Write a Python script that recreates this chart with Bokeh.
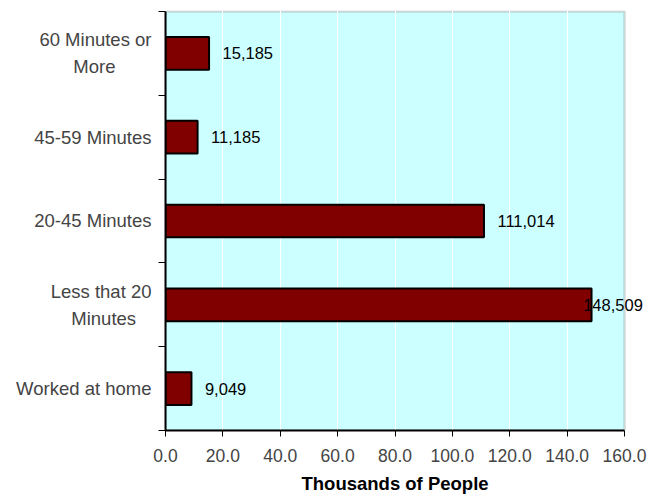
from bokeh.plotting import figure
from bokeh.models import FixedTicker, Range1d, ColumnDataSource, Label, BoxAnnotation, Title
from bokeh.embed import file_html
from bokeh.resources import INLINE

NB = "\u00a0"
categories = ["Worked at home", "Less that 20\nMinutes" + NB * 3, "20-45 Minutes", "45-59 Minutes",
              "60 Minutes or\nMore" + NB * 7]
values = [9.049, 148.509, 111.014, 11.185, 15.185]
value_labels = ["9,049", "148,509", "111,014", "11,185", "15,185"]
x_ticks = [0, 20, 40, 60, 80, 100, 120, 140, 160]
x_max = 160
x_title = "Thousands of People"

FONT = "Liberation Sans"

ypos = [i + 0.5 for i in range(len(categories))]
n = len(categories)

# the frame is a bit wider than the plotted area so that the last value label is not clipped
W, H = 663, 500
LEFT, TOP, BOTTOM = 165, 10, 69
PLOT_W = 459
FRAME_W = 490
FRAME_H = H - TOP - BOTTOM
x_end = x_max * FRAME_W / PLOT_W
y_end = n * (FRAME_H) / (FRAME_H - 1)

p = figure(width=W, height=H, output_backend="svg", toolbar_location=None,
           x_range=Range1d(0, x_end), y_range=Range1d(0, y_end),
           min_border_left=LEFT, min_border_right=W - LEFT - FRAME_W,
           min_border_top=TOP, min_border_bottom=BOTTOM)
p.background_fill_color = "white"
p.border_fill_color = "white"
p.outline_line_color = None

# plot area background with grey border
p.add_layout(BoxAnnotation(left=0, right=x_max, bottom=0, top=n,
                           fill_color="#CCFFFF", fill_alpha=1.0,
                           line_color="#808080", line_width=2.5, level="image"))

src = ColumnDataSource(dict(y=ypos, v=values))
p.hbar(y="y", right="v", left=0, height=0.39, source=src,
       fill_color="#800000", line_color="black", line_width=2)

# value labels
for v, y, t in zip(values, ypos, value_labels):
    p.add_layout(Label(x=min(v + 4.7, 145.6), y=y, text=t, text_font=FONT,
                       text_font_size="16.5px", text_baseline="middle",
                       text_align="left", text_color="black"))

# grid
p.ygrid.grid_line_color = None
p.xgrid.ticker = FixedTicker(ticks=x_ticks[1:-1])
p.xgrid.grid_line_color = "white"
p.xgrid.grid_line_width = 1

# x axis
p.xaxis.ticker = FixedTicker(ticks=x_ticks)
p.xaxis.bounds = (0, x_max)
p.xaxis.major_label_overrides = {t: f"{t:.1f}" for t in x_ticks}
p.xaxis.major_label_text_font = FONT
p.xaxis.major_label_text_font_size = "17.5px"
p.xaxis.major_label_standoff = 12
p.xaxis.major_tick_in = 0
p.xaxis.major_tick_out = 6
p.xaxis.minor_tick_line_color = None
p.xaxis.axis_line_color = "black"
p.xaxis.axis_line_width = 2

# x axis title, centred under the plotted area
p.add_layout(Title(text=x_title, align="left", offset=136, standoff=13,
                   text_font=FONT, text_font_size="18.5px", text_font_style="bold",
                   text_color="black"), "below")

# y axis
p.yaxis.ticker = FixedTicker(ticks=ypos, minor_ticks=list(range(n + 1)))
p.yaxis.bounds = (0, n)
p.yaxis.major_label_overrides = {y: c for y, c in zip(ypos, categories)}
p.yaxis.major_tick_line_color = None
p.yaxis.major_tick_in = 0
p.yaxis.major_tick_out = 0
p.yaxis.minor_tick_in = 0
p.yaxis.minor_tick_out = 7
p.yaxis.minor_tick_line_color = "black"
p.yaxis.major_label_text_font = FONT
p.yaxis.major_label_text_font_size = "18.5px"
p.yaxis.major_label_text_line_height = 1.28
p.yaxis.major_label_standoff = 7
p.yaxis.axis_line_color = "black"
p.yaxis.axis_line_width = 2

open("out.html", "w").write(file_html(p, INLINE))
